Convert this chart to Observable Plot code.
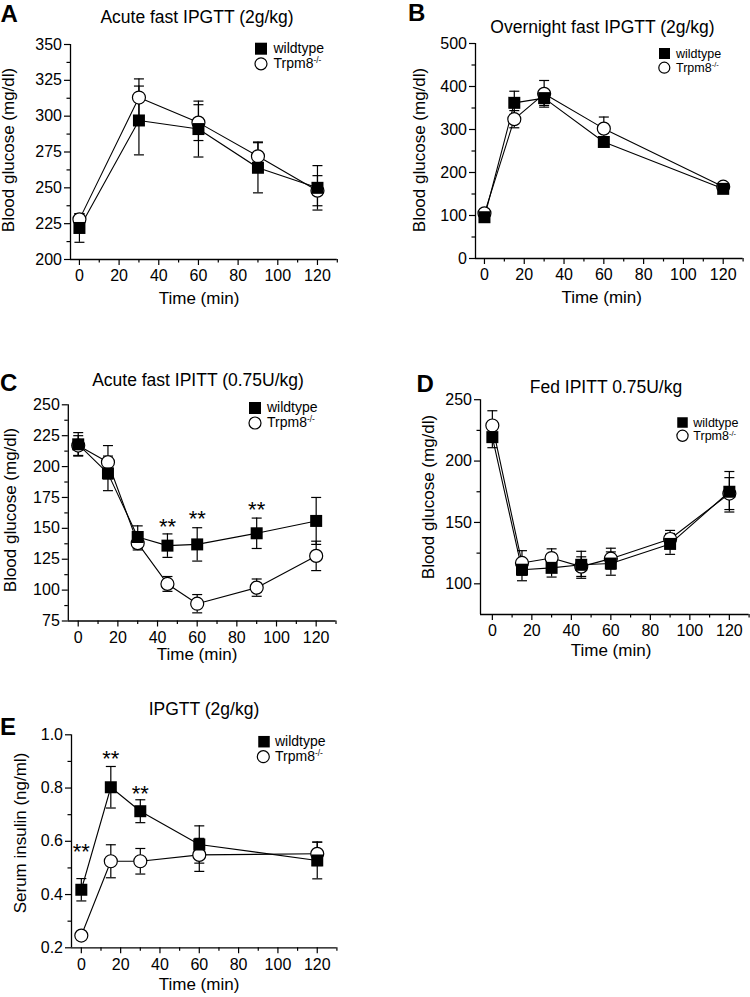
<!DOCTYPE html>
<html><head><meta charset="utf-8">
<script src="https://cdn.jsdelivr.net/npm/d3@7"></script>
<script src="https://cdn.jsdelivr.net/npm/@observablehq/plot@0.6"></script>
<style>
body{margin:0;background:#fff}
#wrap{position:relative;width:750px;height:997px;font-family:"Liberation Sans",Arial,sans-serif;overflow:hidden}
#wrap svg{position:absolute;left:0;top:0}
</style></head><body><div id="wrap"></div>
<script>
// ---------- DATA ----------
const panelLetters = ["A", "B", "C", "D", "E"];
const panelTitles = ["Acute fast IPGTT (2g/kg)", "Overnight fast IPGTT (2g/kg)", "Acute fast IPITT (0.75U/kg)", "Fed IPITT 0.75U/kg", "IPGTT (2g/kg)"];
const legendWT = "wildtype";
const legendKO = "Trpm8";
const legendKOsup = "-/-";
const xLabel = "Time (min)";
const yLabelGlucose = "Blood glucose (mg/dl)";
const yLabelInsulin = "Serum insulin (ng/ml)";
const starText = "**";

const xTicks = [0, 20, 40, 60, 80, 100, 120];
const xMinorTicks = [10, 30, 50, 70, 90, 110, 130];

// Panel A
const timeA = [0, 30, 60, 90, 120];
const wtA = [222, 297, 291, 264, 250];
const wtA_sem = [10, 24, 19.5, 17.5, 15.5];
const koA = [228, 313, 295.5, 272, 248];
const koA_sem = [4, 13, 12.5, 10, 10.5];
const yTicksA = [200, 225, 250, 275, 300, 325, 350];
const yMinorA = [212.5, 237.5, 262.5, 287.5, 312.5, 337.5];

// Panel B
const timeB = [0, 15, 30, 60, 120];
const wtB = [96, 362, 373, 271, 162];
const wtB_sem = [8, 27, 17, 10, 8];
const koB = [105, 324, 383, 302, 167];
const koB_sem = [8, 20, 31, 27, 8];
const yTicksB = [0, 100, 200, 300, 400, 500];
const yMinorB = [50, 150, 250, 350, 450];

// Panel C
const timeC = [0, 15, 30, 45, 60, 90, 120];
const wtC = [218, 194.5, 143, 136, 137, 146, 156];
const wtC_sem = [9.5, 14, 9, 9.5, 13.5, 12.3, 19];
const koC = [217, 203.5, 138, 105, 89, 102, 127.7];
const koC_sem = [8, 13.5, 5.5, 6, 7.4, 7, 11.9];
const starsC_t = [45, 60, 90];
const starsC_y = [156, 162.5, 170];
const yTicksC = [75, 100, 125, 150, 175, 200, 225, 250];
const yMinorC = [87.5, 112.5, 137.5, 162.5, 187.5, 212.5, 237.5];

// Panel D
const timeD = [0, 15, 30, 45, 60, 90, 120];
const wtD = [219.5, 111.5, 113, 115.5, 116.5, 132.5, 175];
const wtD_sem = [8.6, 9, 7.5, 11, 9.5, 8.5, 16.5];
const koD = [229, 117, 121, 114, 120.5, 136.5, 173.5];
const koD_sem = [12, 10, 7.5, 8, 8.5, 7, 13];
const yTicksD = [100, 150, 200, 250];
const yMinorD = [125, 175, 225];

// Panel E
const timeE = [0, 15, 30, 60, 120];
const wtE = [0.418, 0.803, 0.713, 0.588, 0.528];
const wtE_sem = [0.042, 0.078, 0.043, 0.07, 0.069];
const koE = [0.246, 0.525, 0.525, 0.549, 0.553];
const koE_sem = [0.01, 0.062, 0.048, 0.062, 0.044];
const starsE_t = [0, 15, 30];
const starsE_y = [0.584, 0.93, 0.80];
const yTicksE = [0.2, 0.4, 0.6, 0.8, 1.0];
const yMinorE = [0.3, 0.5, 0.7, 0.9];

// ---------- DRAW ----------
const FONT = '"Liberation Sans", Arial, sans-serif';
const W = 750, H = 997;
const wrap = document.getElementById("wrap");

const capSymbol = {draw(ctx, size) { const r = Math.sqrt(size / Math.PI); ctx.moveTo(-r, 0); ctx.lineTo(r, 0); }};
const squareSymbol = {draw(ctx, size) { const r = Math.sqrt(size / Math.PI); ctx.rect(-r, -r, 2 * r, 2 * r); }};

function panel({frame: [x0, x1, y0, y1], xDomain, yDomain, yTicks, yMinor, yFormat, t, wt, wtE, ko, koE, starsT = [], starsY = []}) {
  const rows = [];
  t.forEach((tt, i) => {
    rows.push({g: "ko", t: tt, v: ko[i], e: koE[i]});
    rows.push({g: "wt", t: tt, v: wt[i], e: wtE[i]});
  });
  const caps = rows.flatMap(d => [{t: d.t, v: d.v - d.e}, {t: d.t, v: d.v + d.e}]);
  const stars = starsT.map((tt, i) => ({t: tt, v: starsY[i]}));
  const svg = Plot.plot({
    width: W, height: H,
    marginLeft: x0, marginRight: W - x1, marginTop: y0, marginBottom: H - y1,
    x: {domain: xDomain},
    y: {domain: [yDomain[0], yDomain[1]]},
    style: {fontFamily: FONT, fontSize: "16px", color: "black", background: "transparent", overflow: "visible"},
    marks: [
      Plot.axisX({ticks: xTicks, tickSize: 6, tickPadding: 4.5, label: null, strokeWidth: 1.2}),
      Plot.axisX({ticks: xMinorTicks, tickSize: 3.5, tickFormat: () => "", label: null, strokeWidth: 1.2}),
      Plot.axisY({ticks: yTicks, tickSize: 6, tickPadding: 2.5, tickFormat: yFormat, label: null, strokeWidth: 1.2}),
      Plot.axisY({ticks: yMinor, tickSize: 3.5, tickFormat: () => "", label: null, strokeWidth: 1.2}),
      Plot.ruleX([xDomain[0]], {stroke: "black", strokeWidth: 1.3}),
      Plot.ruleY([yDomain[0]], {stroke: "black", strokeWidth: 1.3}),
      Plot.ruleX(rows, {x: "t", y1: d => d.v - d.e, y2: d => d.v + d.e, stroke: "black", strokeWidth: 1.2}),
      Plot.dot(caps, {x: "t", y: "v", symbol: capSymbol, r: 5, stroke: "black", fill: "none", strokeWidth: 1.2}),
      Plot.line(rows, {x: "t", y: "v", z: "g", stroke: "black", strokeWidth: 1.1}),
      Plot.dot(rows.filter(d => d.g === "ko"), {x: "t", y: "v", r: 6.5, fill: "white", stroke: "black", strokeWidth: 1.2}),
      Plot.dot(rows.filter(d => d.g === "wt"), {x: "t", y: "v", symbol: squareSymbol, r: 6, fill: "black", stroke: "none"}),
      Plot.text(stars, {x: "t", y: "v", text: () => starText, fontSize: 22, dy: 6, fill: "black", fontFamily: FONT})
    ]
  });
  wrap.appendChild(svg);
}

const fmtInt = d => d3.format("d")(d);
const fmt1 = d => d3.format(".1f")(d);

panel({frame: [70, 336.8, 44, 259], xDomain: [-4.5, 130], yDomain: [200, 350], yTicks: yTicksA, yMinor: yMinorA, yFormat: fmtInt,
  t: timeA, wt: wtA, wtE: wtA_sem, ko: koA, koE: koA_sem});
panel({frame: [475, 742.6, 43, 258], xDomain: [-4.5, 130], yDomain: [0, 500], yTicks: yTicksB, yMinor: yMinorB, yFormat: fmtInt,
  t: timeB, wt: wtB, wtE: wtB_sem, ko: koB, koE: koB_sem});
panel({frame: [67.8, 335.5, 404.3, 620.5], xDomain: [-5, 130], yDomain: [75, 250], yTicks: yTicksC, yMinor: yMinorC, yFormat: fmtInt,
  t: timeC, wt: wtC, wtE: wtC_sem, ko: koC, koE: koC_sem, starsT: starsC_t, starsY: starsC_y});
panel({frame: [480, 748.6, 399.2, 614], xDomain: [-6, 130], yDomain: [75, 250], yTicks: yTicksD, yMinor: yMinorD, yFormat: fmtInt,
  t: timeD, wt: wtD, wtE: wtD_sem, ko: koD, koE: koD_sem});
panel({frame: [71, 336.4, 734.3, 947.3], xDomain: [-5, 130], yDomain: [0.2, 1.0], yTicks: yTicksE, yMinor: yMinorE, yFormat: fmt1,
  t: timeE, wt: wtE, wtE: wtE_sem, ko: koE, koE: koE_sem, starsT: starsE_t, starsY: starsE_y});

// ---------- TEXT OVERLAY (letters, titles, legends, axis labels) ----------
const ov = d3.select(wrap).append("svg").attr("width", W).attr("height", H)
  .style("font-family", FONT).style("overflow", "visible");

const letterPos = [[0.5, 21.5], [408, 21.3], [0, 390.5], [416.5, 391.7], [0, 734.5]];
panelLetters.forEach((L, i) => ov.append("text").attr("x", letterPos[i][0]).attr("y", letterPos[i][1])
  .attr("font-size", 24).attr("font-weight", "bold").text(L));

const titlePos = [[197, 22.8], [602.5, 32.5], [198, 386], [606, 393], [204, 714.5]];
panelTitles.forEach((T, i) => ov.append("text").attr("x", titlePos[i][0]).attr("y", titlePos[i][1])
  .attr("font-size", 17.5).attr("text-anchor", "middle").text(T));

// x labels
[[199, 304], [601.7, 303], [197, 659.5], [611, 656], [199, 990]].forEach(([x, y]) =>
  ov.append("text").attr("x", x).attr("y", y).attr("font-size", 17).attr("text-anchor", "middle").text(xLabel));
// y labels (rotated)
[[13.5, 150, yLabelGlucose], [425, 150, yLabelGlucose], [16, 510, yLabelGlucose], [434, 497, yLabelGlucose], [26, 833, yLabelInsulin]]
  .forEach(([x, y, s]) => ov.append("text").attr("transform", `translate(${x},${y}) rotate(-90)`)
    .attr("font-size", 17).attr("text-anchor", "middle").text(s));

// legends: [squareCx, squareCy, size, circleCx, circleCy, r, textX, base1, base2, fontSize]
const legends = [
  [261, 48.7, 12, 261, 63.8, 6, 273.5, 53.3, 68.3, 14],
  [664.5, 53.5, 11, 664.3, 67.7, 5.5, 676, 58.3, 71.7, 12.5],
  [255, 408, 12, 255, 423, 6, 267, 411.7, 426.7, 14],
  [682.5, 422.5, 10.5, 682.5, 435.8, 5.6, 693.3, 426.7, 440.3, 12.5],
  [264, 741.7, 11.5, 263.3, 756.7, 6, 275, 746, 760.7, 14]
];
legends.forEach(([sx, sy, s, cx, cy, r, tx, b1, b2, fs]) => {
  ov.append("rect").attr("x", sx - s / 2).attr("y", sy - s / 2).attr("width", s).attr("height", s).attr("fill", "black");
  ov.append("circle").attr("cx", cx).attr("cy", cy).attr("r", r).attr("fill", "white").attr("stroke", "black").attr("stroke-width", 1.2);
  ov.append("text").attr("x", tx).attr("y", b1).attr("font-size", fs).text(legendWT);
  const t2 = ov.append("text").attr("x", tx).attr("y", b2).attr("font-size", fs);
  t2.append("tspan").text(legendKO);
  t2.append("tspan").attr("font-size", fs * 0.6).attr("dy", -fs * 0.36).text(legendKOsup);
});
</script></body></html>
